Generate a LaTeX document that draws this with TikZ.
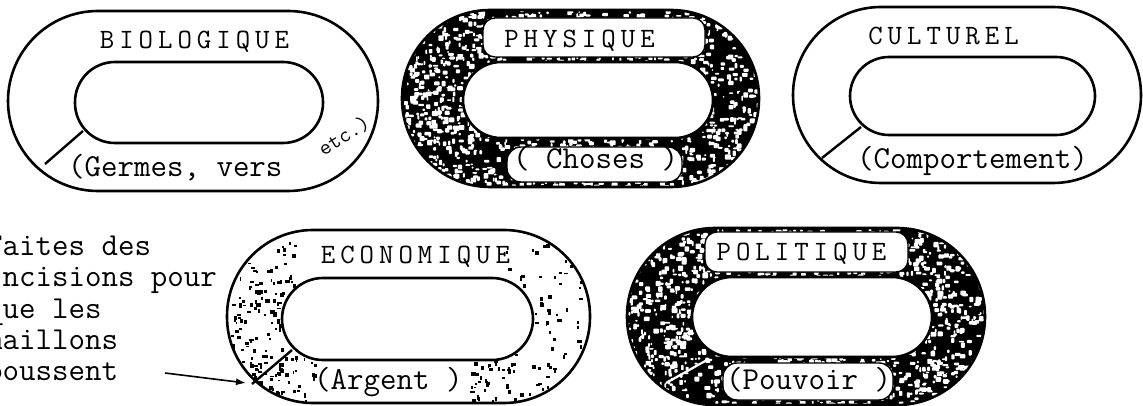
\documentclass[tikz,border=0pt]{standalone}
\usepackage{fontspec}
\usetikzlibrary{arrows.meta}
\newcommand{\capsfnt}{\ttfamily\fontsize{28}{32}\selectfont}
\newcommand{\bodyfnt}{\ttfamily\fontsize{32}{36}\selectfont}
% letter-spaced caps
\def\lsp#1{\lsploop#1\relax}
\def\lsploop#1{\ifx#1\relax\else#1\kern 5pt\expandafter\lsploop\fi}
\tikzset{
  ringline/.style={line width=2.6pt, black},
  labtxt/.style={font=\capsfnt, inner sep=0pt, anchor=base},
  bodytxt/.style={font=\bodyfnt, inner sep=0pt, anchor=base west},
  labbox/.style={fill=white, draw=black, line width=1.4pt, rounded corners=12pt},
  cutline/.style={line width=2.4pt, black},
}
\newcommand{\darkspeckle}[5]{% x1 y1 w h seed
  \pgfmathsetseed{#5}
  \foreach \i in {1,...,1700}{
    \pgfmathsetmacro\rx{#1+#3*rnd}
    \pgfmathsetmacro\ry{#2+#4*rnd}
    \pgfmathsetmacro\rw{1.5+4.5*rnd}
    \pgfmathsetmacro\rh{1.5+4*rnd}
    \fill[white, rounded corners=0.8pt] (\rx,\ry) rectangle ++(\rw,\rh);
  }}
\newcommand{\lightspeckle}[6]{% x1 y1 w h seed count
  \pgfmathsetseed{#5}
  \foreach \i in {1,...,#6}{
    \pgfmathsetmacro\rx{#1+#3*rnd}
    \pgfmathsetmacro\ry{#2+#4*rnd}
    \pgfmathsetmacro\rw{1.5+3*rnd}
    \pgfmathsetmacro\rh{1.5+3*rnd}
    \fill[black] (\rx,\ry) rectangle ++(\rw,\rh);
  }}
\begin{document}
\begin{tikzpicture}[x=1pt,y=-1pt]
\useasboundingbox (0,0) rectangle (1143,406);
\fill[white] (0,0) rectangle (1143,406);

% ---------------- Ring 1: BIOLOGIQUE ----------------
\draw[ringline, rounded corners=90pt] (8,11) rectangle (378,191);
\draw[ringline, rounded corners=40pt] (75,62) rectangle (323,143);
\coordinate (c1a) at (83,131);
\coordinate (c1b) at (45,164);
\draw[cutline] (c1a) -- (c1b);
\node[labtxt] (bio) at (197,49) {\lsp{BIOLOGIQUE}};
\node[bodytxt] (germes) at (68,177) {(Germes, vers};
\node[font=\ttfamily\fontsize{22}{24}\selectfont, inner sep=0pt, rotate=32] (etc) at (344,136) {etc.)};

% ---------------- Ring 2: PHYSIQUE ----------------
\begin{scope}
  \clip[rounded corners=88pt] (402,10) rectangle (759,187);
  \fill[black] (402,10) rectangle (759,187);
  \darkspeckle{402}{10}{357}{177}{11}
\end{scope}
\fill[white, rounded corners=38pt] (463,62) rectangle (713,138);
\draw[ringline, rounded corners=88pt] (402,10) rectangle (759,187);
\draw[ringline, rounded corners=38pt] (463,62) rectangle (713,138);
\draw[labbox] (483,18) rectangle (705,57);
\draw[labbox, rounded corners=14pt] (507,147) rectangle (682,182);
\node[labtxt] (phys) at (582,48) {\lsp{PHYSIQUE}};
\node[bodytxt] (choses) at (513,169) {( Choses  )};

% ---------------- Ring 3: CULTUREL ----------------
\draw[ringline, rounded corners=88pt] (793,7) rectangle (1141,183);
\draw[ringline, rounded corners=39pt] (850,57) rectangle (1095,135);
\coordinate (c3a) at (861,127);
\coordinate (c3b) at (822,158);
\draw[cutline] (c3a) -- (c3b);
\node[labtxt] (cult) at (946,45) {\lsp{CULTUREL}};
\node[bodytxt] (comp) at (857,169) {(Comportement)};

% ---------------- Ring 4: ECONOMIQUE ----------------
\begin{scope}
  \clip[rounded corners=86pt] (227,230) rectangle (590,403);
  \lightspeckle{230}{236}{66}{160}{5}{150}
  \lightspeckle{250}{355}{70}{48}{7}{45}
  \lightspeckle{505}{240}{80}{120}{9}{55}
  \lightspeckle{470}{360}{90}{42}{13}{60}
\end{scope}
\fill[white, rounded corners=41pt] (282,278) rectangle (533,360);
\draw[ringline, rounded corners=86pt] (227,230) rectangle (590,403);
\draw[ringline, rounded corners=41pt] (282,278) rectangle (533,360);
\coordinate (c4a) at (292,350);
\coordinate (c4b) at (252,384);
\draw[cutline] (c4a) -- (c4b);
\node[labtxt] (eco) at (418,263) {\lsp{ECONOMIQUE}};
\node[bodytxt] (argent) at (314,389) {(Argent )};

% ---------------- Ring 5: POLITIQUE ----------------
\begin{scope}
  \clip[rounded corners=88pt] (627,228) rectangle (985,405);
  \fill[black] (627,228) rectangle (985,405);
  \darkspeckle{627}{228}{358}{177}{23}
\end{scope}
\fill[white, rounded corners=40pt] (692,277) rectangle (932,357);
\draw[ringline, rounded corners=88pt] (627,228) rectangle (985,405);
\draw[ringline, rounded corners=40pt] (692,277) rectangle (932,357);
\coordinate (c5a) at (707,360);
\coordinate (c5b) at (666,383);
\draw[white, line width=2.2pt] (c5a) -- (c5b);
\draw[labbox] (705,232) rectangle (908,272);
\draw[labbox, rounded corners=14pt] (723,363) rectangle (893,400);
\node[labtxt] (pol) at (804,260) {\lsp{POLITIQUE}};
\node[bodytxt] (pouv) at (726,389) {(Pouvoir )};

% ---------------- Left note + arrow ----------------
\node[bodytxt] (l1) at (-14,255) {Faites des};
\node[bodytxt] (l2) at (-14,286) {incisions pour};
\node[bodytxt] (l3) at (-14,318) {que les};
\node[bodytxt] (l4) at (-14,349) {maillons};
\node[bodytxt] (l5) at (-14,380) {poussent};
\coordinate (astart) at (165,373);
\coordinate (aend) at (246,383);
\draw[line width=1.6pt, -{Latex[length=10pt,width=7pt]}] (astart) -- (aend);
\end{tikzpicture}
\end{document}
